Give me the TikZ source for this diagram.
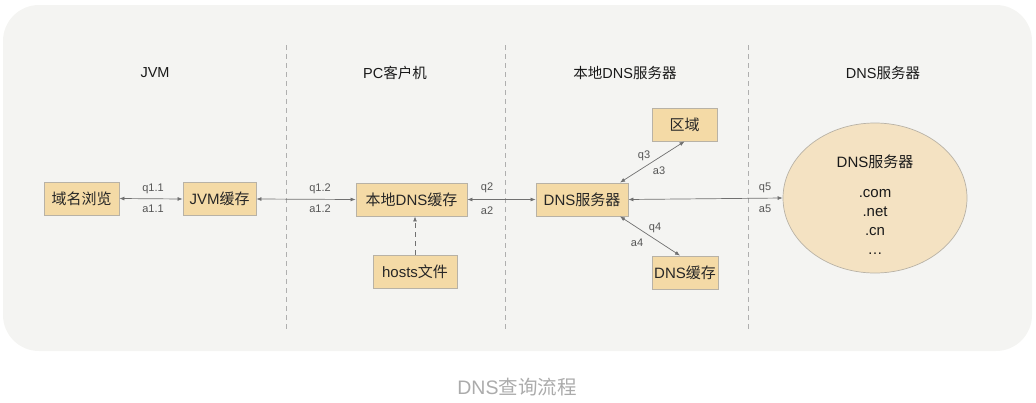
\documentclass[tikz,border=0pt]{standalone}
\usepackage{fontspec}
\setmainfont{Liberation Sans}
\newfontfamily\cjk{Noto Sans CJK SC}
\usetikzlibrary{arrows.meta,shapes.geometric}
\definecolor{bgc}{HTML}{F4F4F2}
\definecolor{boxc}{HTML}{F4DAA6}
\definecolor{boxd}{HTML}{B8B2A6}
\definecolor{ellc}{HTML}{F4E2C2}
\definecolor{linec}{HTML}{707070}
\definecolor{sepc}{HTML}{AFAFAF}
\definecolor{labc}{HTML}{555555}
\definecolor{capc}{HTML}{ABABAB}
\tikzset{
  box/.style={draw=boxd, line width=0.9pt, fill=boxc, inner sep=0pt, font=\fontsize{15}{17}\selectfont, text=black!85},
  link/.style={draw=linec, line width=0.7pt, {Latex[length=5pt,width=4pt]}-{Latex[length=5pt,width=4pt]}},
  lab/.style={font=\fontsize{11}{13}\selectfont, text=labc},
  title/.style={font=\fontsize{14.5}{17}\selectfont, text=black!90},
  sep/.style={draw=sepc, line width=0.8pt, dash pattern=on 5pt off 4pt},
}
\begin{document}
\begin{tikzpicture}[x=1pt,y=-1pt]
\useasboundingbox (0,0) rectangle (1036,402);
\fill[bgc, rounded corners=36pt] (3,5) rectangle (1032,351);
% separators
\coordinate (s1a) at (286,45); \coordinate (s1b) at (286,332);
\coordinate (s2a) at (505,45); \coordinate (s2b) at (505,332);
\coordinate (s3a) at (748,45); \coordinate (s3b) at (748,332);
\draw[sep] (s1a) -- (s1b);
\draw[sep] (s2a) -- (s2b);
\draw[sep] (s3a) -- (s3b);
% titles
\node[title] (t1) at (155,73) {JVM};
\node[title] (t2) at (395,73) {PC{\cjk 客户机}};
\node[title] (t3) at (625,73) {{\cjk 本地}DNS{\cjk 服务器}};
\node[title] (t4) at (883,73) {DNS{\cjk 服务器}};
% boxes
\node[box, minimum width=75pt, minimum height=33pt] (ym) at (81.5,198.5) {\cjk 域名浏览};
\node[box, minimum width=73pt, minimum height=33pt] (jvm) at (219.5,199) {JVM{\cjk 缓存}};
\node[box, minimum width=111pt, minimum height=33pt] (ldns) at (411.5,199.5) {{\cjk 本地}DNS{\cjk 缓存}};
\node[box, minimum width=84pt, minimum height=33pt] (hosts) at (415,271.5) {hosts{\cjk 文件}};
\node[box, minimum width=92pt, minimum height=33pt] (dns) at (582,199.5) {DNS{\cjk 服务器}};
\node[box, minimum width=65pt, minimum height=33pt] (qy) at (684.5,124.5) {\cjk 区域};
\node[box, minimum width=66pt, minimum height=33pt] (dc) at (685,272.5) {DNS{\cjk 缓存}};
\node[draw=boxd, line width=0.7pt, fill=ellc, ellipse, minimum width=184pt, minimum height=150pt, inner sep=0pt] (ell) at (875,198) {};
\node[title, font=\fontsize{15}{17}\selectfont] (ellt) at (875,162) {DNS{\cjk 服务器}};
\node[title, align=center, font=\fontsize{15}{19}\selectfont] (elll) at (875,222) {.com\\.net\\.cn\\\dots};
% links
\draw[link] (ym.east) -- (jvm.west);
\draw[link] (jvm.east) -- (ldns.west);
\draw[link] (ldns.east) -- (dns.west);
\draw[link] (dns.east) -- (ell.west);
\draw[link] ([xshift=38pt]dns.north) -- ([xshift=0pt]qy.south);
\draw[link] ([xshift=38pt]dns.south) -- ([xshift=-5pt]dc.north);
\draw[draw=linec, line width=0.8pt, dash pattern=on 5pt off 4pt, -{Latex[length=5pt,width=4pt]}] (hosts.north) -- (hosts.north |- ldns.south);
% labels
\node[lab] (q11) at (153,189) {q1.1};
\node[lab] (a11) at (153,209) {a1.1};
\node[lab] (q12) at (320,189) {q1.2};
\node[lab] (a12) at (320,209) {a1.2};
\node[lab] (q2) at (487,188) {q2};
\node[lab] (a2) at (487,211) {a2};
\node[lab] (q3) at (644,156) {q3};
\node[lab] (a3) at (659,171) {a3};
\node[lab] (q4) at (655,228) {q4};
\node[lab] (a4) at (637,243) {a4};
\node[lab] (q5) at (765,188) {q5};
\node[lab] (a5) at (765,209) {a5};
% caption
\node[font=\fontsize{19.5}{22}\selectfont, text=capc] (cap) at (517,387) {DNS{\cjk 查询流程}};
\end{tikzpicture}
\end{document}
